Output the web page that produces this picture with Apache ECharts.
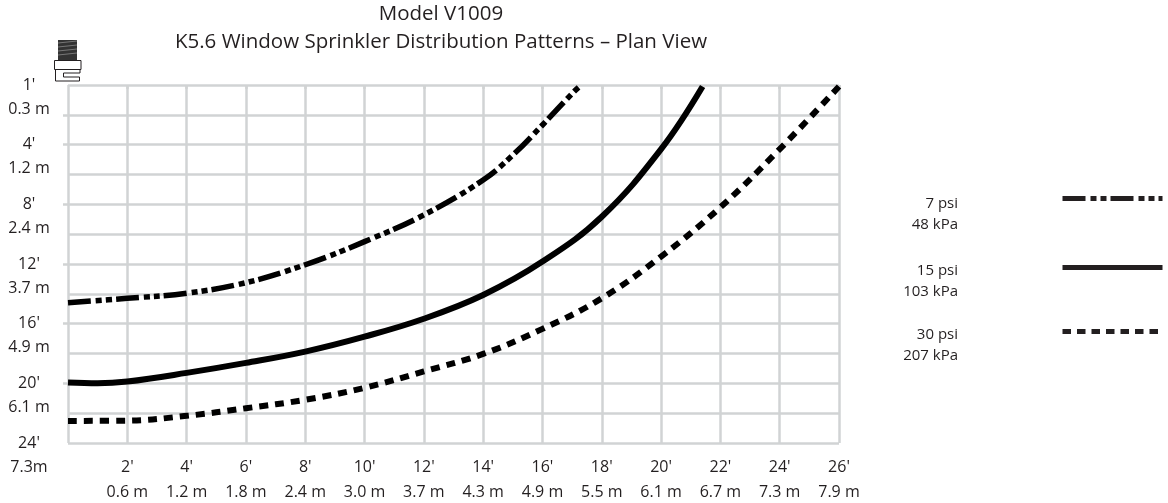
<!DOCTYPE html>
<html><head><meta charset="utf-8">
<script src="https://cdn.jsdelivr.net/npm/echarts@6/dist/echarts.min.js"></script>
<style>html,body{margin:0;padding:0;background:#fff}#c{width:1168px;height:503px}</style>
</head><body><div id="c"></div>
<script>
const titleLines = "Model V1009\nK5.6 Window Sprinkler Distribution Patterns – Plan View";
const xFeet = ["2'","4'","6'","8'","10'","12'","14'","16'","18'","20'","22'","24'","26'"];
const xMetres = ["0.6 m","1.2 m","1.8 m","2.4 m","3.0 m","3.7 m","4.3 m","4.9 m","5.5 m","6.1 m","6.7 m","7.3 m","7.9 m"];
const yFeet = ["1'","","4'","","8'","","12'","","16'","","20'","","24'"];
const yMetres = ["0.3 m","","1.2 m","","2.4 m","","3.7 m","","4.9 m","","6.1 m","","7.3m"];
const yTickValues = [2,4,8,12,16,20];
const xTickValues = [2,4,6,8,10,12,14,16,18,20,22,24,26];

const psi7 = [[0,14.59],[2,14.3],[4,13.96],[6,13.25],[8,12.05],[10,10.5],[12,8.71],[14,6.37],[15,4.7],[16,2.68],[17.05,0.47],[17.25,0.1]];
const psi15 = [[0,19.95],[1,20.0],[2,19.88],[4,19.3],[6,18.63],[8,17.87],[10,16.87],[12,15.67],[14,14.08],[16,11.84],[18,8.83],[20,4.3],[21.4,0.1]];
const psi30 = [[0,22.52],[2,22.5],[4,22.18],[6,21.67],[8,21.1],[10,20.3],[12,19.2],[14,18.03],[16,16.35],[18,14.3],[20,11.5],[22,8.2],[24,4.3],[26,0.1]];
const seriesNames = ["7 psi\n48 kPa","15 psi\n103 kPa","30 psi\n207 kPa"];

const ink = '#231f20', gridGrey = '#d1d3d4', font = '"Open Sans"';
const chart = echarts.init(document.getElementById('c'));
const line = (name,data,type,w) => ({name,type:'line',data,smooth:0.4,symbol:'none',yAxisIndex:0,
  lineStyle:{color:'#000',width:w,type,cap:'butt',join:'round'},itemStyle:{color:'#000'},z:5,animation:false,clip:true});
const legendAt = (name,top,dash) => ({data:[name],orient:'vertical',right:3,top,padding:0,itemWidth:100,itemHeight:5,
  selectedMode:false,formatter:()=>'',itemStyle:{opacity:0},
  lineStyle:{color:ink,width:5,type:dash,cap:'butt'}});
const legendLabel = (name,top) => ({type:'text',right:210,top,silent:true,
  style:{text:name,fill:ink,font:'15px '+font,lineHeight:21,textAlign:'right'}});
const threads = [43,47,51,55].map(y=>({type:'line',shape:{x1:58,y1:y,x2:77,y2:y-2},style:{stroke:'#777',lineWidth:1}}));
chart.setOption({
  animation:false,
  title:{text:titleLines,left:441,top:0,padding:0,textAlign:'center',textStyle:{fontFamily:font,fontSize:20.5,fontWeight:'normal',color:ink,lineHeight:28}},
  grid:{left:68,top:85,width:771,height:358,containLabel:false,outerBoundsMode:'none'},
  legend:[legendAt(seriesNames[0],196,[23,5,6,4,6,4]),legendAt(seriesNames[1],265,'solid'),legendAt(seriesNames[2],329,[8.5,6])],
  xAxis:[
    {type:'value',min:0,max:26,interval:2,position:'bottom',
     axisLine:{show:false},axisTick:{show:false},
     splitLine:{show:true,lineStyle:{color:gridGrey,width:2.5}},
     axisLabel:{show:true,margin:12,showMinLabel:false,showMaxLabel:true,hideOverlap:false,fontFamily:font,fontSize:16,color:ink,lineHeight:25,
       formatter:v=>{const i=v/2-1;return i>=0?xFeet[i]+'\n'+xMetres[i]:''}}},
    {type:'value',min:0,max:26,position:'bottom',axisLine:{show:false},splitLine:{show:false},axisLabel:{show:false},
     axisTick:{show:true,length:4,customValues:xTickValues,lineStyle:{color:gridGrey,width:2.5}}}
  ],
  yAxis:[
    {type:'value',min:0,max:24,interval:2,inverse:true,position:'left',
     axisLine:{show:false},axisTick:{show:false},axisLabel:{show:false},
     splitLine:{show:true,lineStyle:{color:gridGrey,width:2.5}}},
    {type:'value',min:0,max:24,inverse:true,position:'left',axisLine:{show:false},splitLine:{show:false},axisLabel:{show:false},
     axisTick:{show:true,length:5,customValues:yTickValues,lineStyle:{color:gridGrey,width:2.5}}},
    {type:'category',data:yFeet,boundaryGap:false,inverse:true,position:'left',axisLine:{show:false},axisTick:{show:false},splitLine:{show:false},
     axisLabel:{show:true,interval:0,showMinLabel:true,showMaxLabel:true,hideOverlap:false,margin:39,align:'center',verticalAlign:'middle',
       fontFamily:font,fontSize:16,color:ink,lineHeight:24,
       formatter:(v,i)=>v?'\n'+v+'\n'+yMetres[i]:''}}
  ],
  series:[line(seriesNames[0],psi7,[23,5,6,4,6,4],5.5),line(seriesNames[1],psi15,'solid',6),line(seriesNames[2],psi30,[9,7],6)],
  graphic:[
    legendLabel(seriesNames[0],193),legendLabel(seriesNames[1],260),legendLabel(seriesNames[2],324),
    {type:'group',silent:true,children:[
    {type:'rect',shape:{x:58,y:40,width:19,height:20},style:{fill:'#333'}},
    ...threads,
    {type:'rect',shape:{x:54.5,y:60.5,width:26.5,height:9},style:{fill:'#fff',stroke:ink,lineWidth:1}},
    {type:'polyline',shape:{points:[[55.5,70],[55.5,81],[79.5,81],[79.5,77],[63.5,77],[63.5,73],[80,73],[80,70]]},style:{fill:'#fff',stroke:ink,lineWidth:1}}
  ]}]
});
</script></body></html>
